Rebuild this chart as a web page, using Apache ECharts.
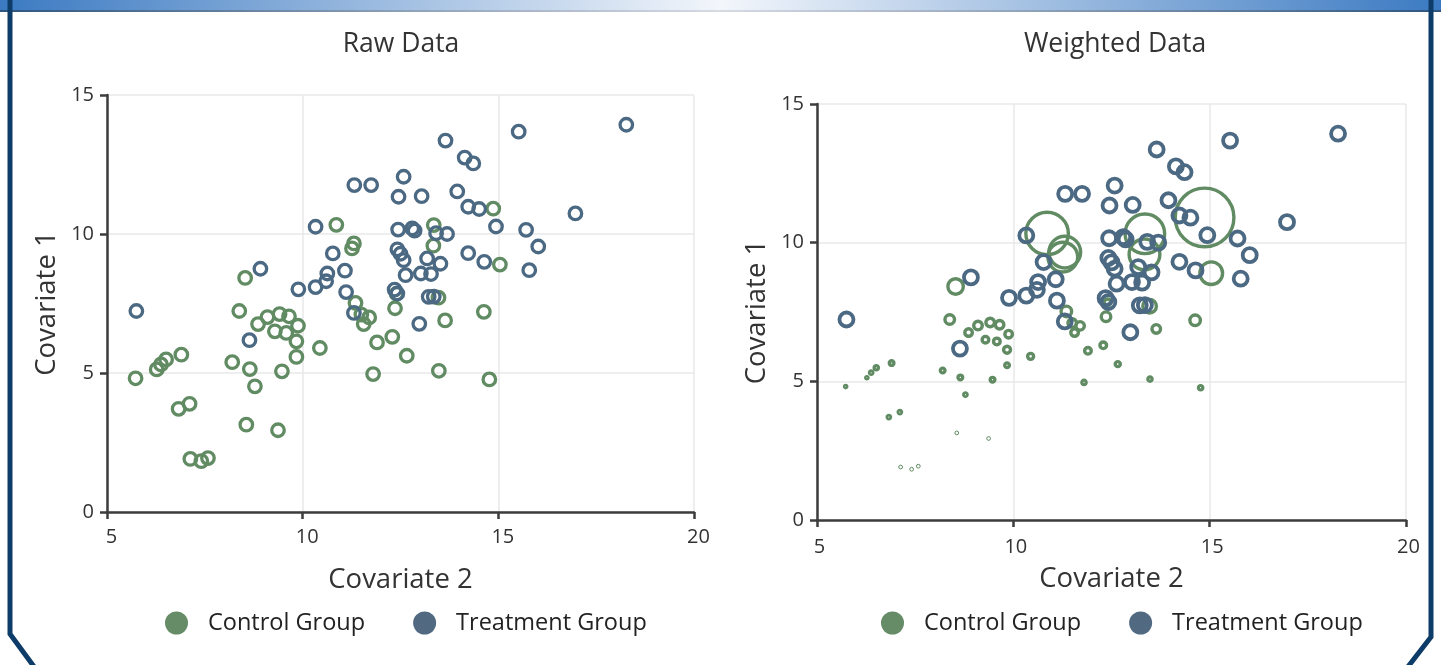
<!DOCTYPE html>
<html><head><meta charset="utf-8">
<script src="https://cdn.jsdelivr.net/npm/echarts@6/dist/echarts.min.js"></script>
<style>html,body{margin:0;padding:0;background:#fff;overflow:hidden}#c{width:1441px;height:665px}</style>
</head><body><div id="c"></div>
<script>
// ---- data ----
const controlX = [5.73, 6.27, 6.38, 6.51, 6.90, 6.83, 7.11, 7.13, 7.41, 7.58, 8.20, 8.65, 8.78, 8.56, 9.37, 9.47, 9.84, 9.84, 10.44, 8.38, 8.53, 8.86, 9.10, 9.41, 9.65, 9.88, 9.29, 9.58, 10.86, 11.31, 11.26, 11.35, 11.50, 11.70, 11.56, 11.90, 12.29, 11.80, 12.36, 12.66, 13.35, 13.34, 14.87, 15.04, 13.47, 14.63, 13.64, 13.48, 14.77, 12.40];
const controlY = [4.81, 5.13, 5.31, 5.49, 5.66, 3.71, 3.89, 1.91, 1.83, 1.94, 5.39, 5.14, 4.52, 3.14, 2.94, 5.06, 5.58, 6.14, 5.90, 7.23, 8.42, 6.76, 7.01, 7.12, 7.04, 6.70, 6.50, 6.44, 10.33, 9.66, 9.48, 7.52, 7.10, 7.00, 6.76, 6.10, 6.30, 4.96, 7.33, 5.62, 10.32, 9.58, 10.91, 8.90, 7.71, 7.20, 6.89, 5.08, 4.77, 7.85];
const controlW = [0.10, 0.10, 0.14, 0.18, 0.20, 0.14, 0.14, 0.07, 0.07, 0.07, 0.20, 0.20, 0.14, 0.07, 0.07, 0.20, 0.20, 0.33, 0.27, 0.52, 1.1, 0.37, 0.44, 0.44, 0.44, 0.37, 0.31, 0.31, 6.5, 3.8, 3.4, 0.6, 0.44, 0.44, 0.37, 0.31, 0.31, 0.18, 0.52, 0.22, 5.7, 3.6, 11.9, 2.1, 0.89, 0.6, 0.44, 0.18, 0.18, 0.31];
const treatX = [5.75, 8.64, 8.92, 9.89, 10.33, 10.60, 10.63, 11.08, 11.11, 11.31, 10.77, 10.33, 11.32, 11.75, 12.45, 12.58, 13.04, 13.65, 13.95, 14.14, 14.36, 15.52, 18.27, 14.23, 14.51, 14.94, 15.71, 16.97, 16.02, 15.79, 14.23, 14.64, 13.52, 13.18, 13.02, 13.28, 12.63, 12.44, 12.80, 12.86, 13.41, 13.69, 12.42, 12.50, 12.58, 12.35, 12.42, 13.22, 13.35, 12.98];
const treatY = [7.23, 6.18, 8.75, 8.01, 8.09, 8.30, 8.58, 8.68, 7.91, 7.16, 9.30, 10.26, 11.76, 11.76, 11.34, 12.06, 11.36, 13.36, 11.53, 12.75, 12.54, 13.68, 13.93, 10.98, 10.90, 10.27, 10.15, 10.74, 9.55, 8.70, 9.31, 9.00, 8.93, 9.12, 8.58, 8.56, 8.52, 10.16, 10.20, 10.12, 10.03, 10.00, 9.45, 9.29, 9.06, 8.00, 7.86, 7.74, 7.75, 6.77];
const groupNames = ['Control Group', 'Treatment Group'];
const panelTitles = ['Raw Data', 'Weighted Data'];
const xTicks = [5, 10, 15, 20];
const yTicks = [0, 5, 10, 15];

// ---- styling ----
const GREEN = '#618b62', BLUE = '#4b6983';
const FONT = 'Open Sans';
const TXT = '#333333';

function zip(xs, ys, ws) { return xs.map((x, i) => ws ? [x, ys[i], ws[i]] : [x, ys[i]]); }
function weightedItem(p) {
  const D = 18 * Math.sqrt(p[2]);
  const s = D < 4.8 ? 1 : Math.min(3.4, D * 0.42);
  return { value: p, symbolSize: Math.max(D - s, 1), itemStyle: { borderWidth: s } };
}

const grids = [
  { left: 107, top: 95, width: 587, height: 417 },
  { left: 817, top: 104, width: 589, height: 416 }
];
function xAxis(i, m, gap, shift) {
  return {
    gridIndex: i, type: 'value', min: xTicks[0], max: xTicks[xTicks.length - 1], interval: xTicks[1] - xTicks[0],
    name: 'Covariate 2', nameLocation: 'middle', nameGap: gap,
    nameTextStyle: { fontFamily: FONT, fontSize: 27.5, color: TXT },
    axisLine: { show: true, lineStyle: { color: '#3c3c3c', width: 2.5 } },
    axisTick: { show: true, length: 7, lineStyle: { color: '#3c3c3c', width: 2.5 } },
    axisLabel: { margin: m, fontFamily: FONT, fontSize: 20, color: TXT, padding: [0, 0, 0, shift] },
    splitLine: { show: true, lineStyle: { color: '#e8e8e8', width: 1.5 } }
  };
}
function yAxis(i, gap) {
  return {
    gridIndex: i, type: 'value', min: yTicks[0], max: yTicks[yTicks.length - 1], interval: yTicks[1] - yTicks[0],
    name: 'Covariate 1', nameLocation: 'middle', nameGap: gap,
    nameTextStyle: { fontFamily: FONT, fontSize: 27.5, color: TXT },
    axisLine: { show: true, lineStyle: { color: '#3c3c3c', width: 2.5 } },
    axisTick: { show: true, length: 7, lineStyle: { color: '#3c3c3c', width: 2.5 } },
    axisLabel: { margin: 13, fontFamily: FONT, fontSize: 20, color: TXT },
    splitLine: { show: true, lineStyle: { color: '#e8e8e8', width: 1.5 } }
  };
}
function legend(left) {
  return {
    left: left, top: 611, icon: 'circle', itemWidth: 23, itemHeight: 23, itemGap: 48, padding: 0,
    textStyle: { fontFamily: FONT, fontSize: 23.5, color: '#222', padding: [0, 0, 0, 15] },
    data: [
      { name: groupNames[0], itemStyle: { color: '#668b67', borderWidth: 0 } },
      { name: groupNames[1], itemStyle: { color: '#516a82', borderWidth: 0 } }
    ],
    selectedMode: false
  };
}

const chart = echarts.init(document.getElementById('c'), null, { renderer: 'canvas' });
chart.setOption({
  animation: false,
  backgroundColor: '#ffffff',
  title: [
    { text: panelTitles[0], left: 401, top: 31, padding: 0, textAlign: 'center', textStyle: { fontFamily: FONT, fontSize: 26.5, fontWeight: 'normal', color: TXT } },
    { text: panelTitles[1], left: 1115, top: 31, padding: 0, textAlign: 'center', textStyle: { fontFamily: FONT, fontSize: 26.5, fontWeight: 'normal', color: TXT } }
  ],
  grid: grids,
  xAxis: [xAxis(0, 15, 54, 9), xAxis(1, 17, 45, 5)],
  yAxis: [yAxis(0, 46), yAxis(1, 46)],
  legend: [legend(165), legend(881)],
  series: [
    { name: groupNames[0], type: 'scatter', xAxisIndex: 0, yAxisIndex: 0, symbol: 'circle', symbolSize: 12.5,
      itemStyle: { color: 'rgba(0,0,0,0)', borderColor: GREEN, borderWidth: 3.3, opacity: 1 },
      data: zip(controlX, controlY) },
    { name: groupNames[1], type: 'scatter', xAxisIndex: 0, yAxisIndex: 0, symbol: 'circle', symbolSize: 12.5,
      itemStyle: { color: 'rgba(0,0,0,0)', borderColor: BLUE, borderWidth: 3.3, opacity: 1 },
      data: zip(treatX, treatY) },
    { name: groupNames[0], type: 'scatter', xAxisIndex: 1, yAxisIndex: 1, symbol: 'circle',
      itemStyle: { color: 'rgba(0,0,0,0)', borderColor: GREEN, opacity: 1 },
      data: zip(controlX, controlY, controlW).map(weightedItem) },
    { name: groupNames[1], type: 'scatter', xAxisIndex: 1, yAxisIndex: 1, symbol: 'circle', symbolSize: 14,
      itemStyle: { color: 'rgba(0,0,0,0)', borderColor: BLUE, borderWidth: 3.8, opacity: 1 },
      data: zip(treatX, treatY) }
  ],
  graphic: [
    { type: 'rect', left: 0, top: 0, z: 100, silent: true, shape: { x: 0, y: 0, width: 1441, height: 10 },
      style: { fill: { type: 'linear', x: 0, y: 0, x2: 1, y2: 0, colorStops: [
        { offset: 0, color: '#3b7ac2' }, { offset: 0.5, color: '#f3f6fb' }, { offset: 1, color: '#3b7ac2' } ] } } },
    { type: 'rect', left: 0, top: 10, z: 100, silent: true, shape: { x: 0, y: 0, width: 1441, height: 2 },
      style: { fill: { type: 'linear', x: 0, y: 0, x2: 1, y2: 0, colorStops: [
        { offset: 0, color: '#2f557f' }, { offset: 0.5, color: '#d6dbe3' }, { offset: 1, color: '#2f557f' } ] } } },
    { type: 'polyline', z: 100, silent: true, shape: { points: [[10, 0], [10, 634], [35, 668]] },
      style: { stroke: '#0e3c69', lineWidth: 5, fill: null } },
    { type: 'polyline', z: 100, silent: true, shape: { points: [[1431, 0], [1431, 637], [1407, 668]] },
      style: { stroke: '#0e3c69', lineWidth: 5, fill: null } }
  ]
});
</script>
</body></html>
